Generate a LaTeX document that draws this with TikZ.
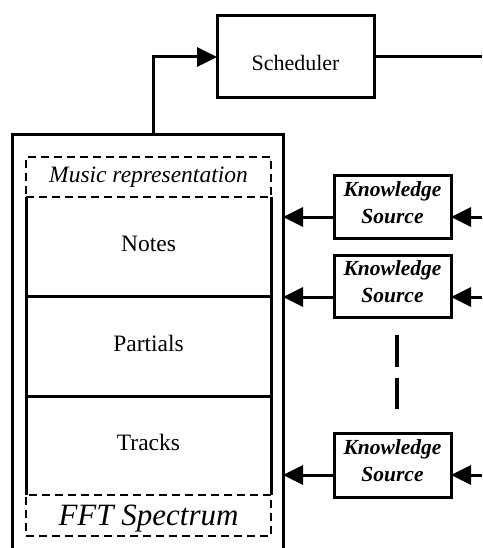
\documentclass[tikz,border=0pt]{standalone}
\usepackage{fontspec}
\setmainfont{Liberation Serif}
\usetikzlibrary{arrows.meta}
\begin{document}
\begin{tikzpicture}[x=1pt,y=-1pt,
  solidbox/.style={draw, line width=3pt, inner sep=0pt, outer sep=0pt},
  plain/.style={inner sep=0pt, outer sep=0pt},
  dbox/.style={draw, line width=2.5pt, dash pattern=on 8pt off 5pt, inner sep=0pt, outer sep=0pt},
  ln/.style={line width=3pt},
  arr/.style={line width=3pt, -{Triangle[length=20pt,width=19pt]}},
  rmtext/.style={inner sep=0pt, font=\fontsize{23.5}{27}\selectfont},
  kstext/.style={inner sep=0pt, font=\fontsize{21.5}{27}\selectfont\bfseries\itshape, align=center}
]
\useasboundingbox (0,0) rectangle (482,548);
% Scheduler
\node[solidbox, minimum width=157pt, minimum height=82pt] (sched) at (295.5,57) {};
\node[inner sep=0pt, font=\fontsize{22}{26}\selectfont] (schedlbl) at ([yshift=-6pt]sched.center) {Scheduler};
\coordinate (schedout) at (482,57);
\draw[ln] (sched.east) -- (schedout);
% outer blackboard box (open bottom)
\node[plain, minimum width=271pt, minimum height=425pt] (outer) at (147.5,347.5) {};
\draw[ln] (outer.south west) -- (outer.north west) -- (outer.north east) -- (outer.south east);
\coordinate (up) at (153,135);
\draw[arr] (up) |- (sched.west);
% inner representation levels
\node[plain, minimum width=245pt, minimum height=99pt] (notes) at (148.5,246.5) {};
\node[solidbox, minimum width=245pt, minimum height=100pt] (partials) at (148.5,346) {};
\node[plain, minimum width=245pt, minimum height=99pt] (tracks) at (148.5,445.5) {};
\node[rmtext] (noteslbl) at ([yshift=3pt]notes.center) {Notes};
\node[rmtext] (partialslbl) at ([yshift=3pt]partials.center) {Partials};
\node[rmtext] (trackslbl) at ([yshift=3pt]tracks.center) {Tracks};
\draw[ln] (notes.north west) -- (notes.south west) -- (notes.south east) -- (notes.north east);
\draw[ln] (tracks.south west) -- (tracks.north west);
\draw[ln] (tracks.north east) -- (tracks.south east);
\node[dbox, minimum width=245pt, minimum height=40pt, font=\fontsize{23.5}{27}\selectfont\itshape] (music) at (148.5,177) {Music representation};
\node[dbox, minimum width=245pt, minimum height=41pt] (fft) at (148.5,515.5) {};
\node[inner sep=0pt, font=\fontsize{31}{35}\selectfont\itshape] (fftlbl) at ([yshift=-3pt]fft.center) {FFT Spectrum};
% knowledge sources
\node[solidbox, minimum width=117pt, minimum height=63pt] (ks1) at (392.5,206.5) {};
\node[solidbox, minimum width=117pt, minimum height=62pt] (ks2) at (392.5,286) {};
\node[solidbox, minimum width=117pt, minimum height=64pt] (ks3) at (392.5,465) {};
\node[kstext] (ks1lbl) at ([yshift=4pt]ks1.center) {Knowledge\\Source};
\node[kstext] (ks2lbl) at ([yshift=4pt]ks2.center) {Knowledge\\Source};
\node[kstext] (ks3lbl) at ([yshift=4pt]ks3.center) {Knowledge\\Source};
\draw[arr] ([yshift=-10.5pt]ks1.west) coordinate (k1) -- (k1 -| outer.east);
\draw[arr] ([yshift=-11pt]ks2.west) coordinate (k2) -- (k2 -| outer.east);
\draw[arr] ([yshift=-10pt]ks3.west) coordinate (k3) -- (k3 -| outer.east);
\coordinate (r1) at (482,217);
\coordinate (r2) at (482,297);
\coordinate (r3) at (482,475);
\draw[arr] (r1) -- (r1 -| ks1.east);
\draw[arr] (r2) -- (r2 -| ks2.east);
\draw[arr] (r3) -- (r3 -| ks3.east);
% ellipsis dashes
\draw[line width=3.5pt, dash pattern=on 32pt off 11pt] (397,335) -- (397,409);
\end{tikzpicture}
\end{document}
